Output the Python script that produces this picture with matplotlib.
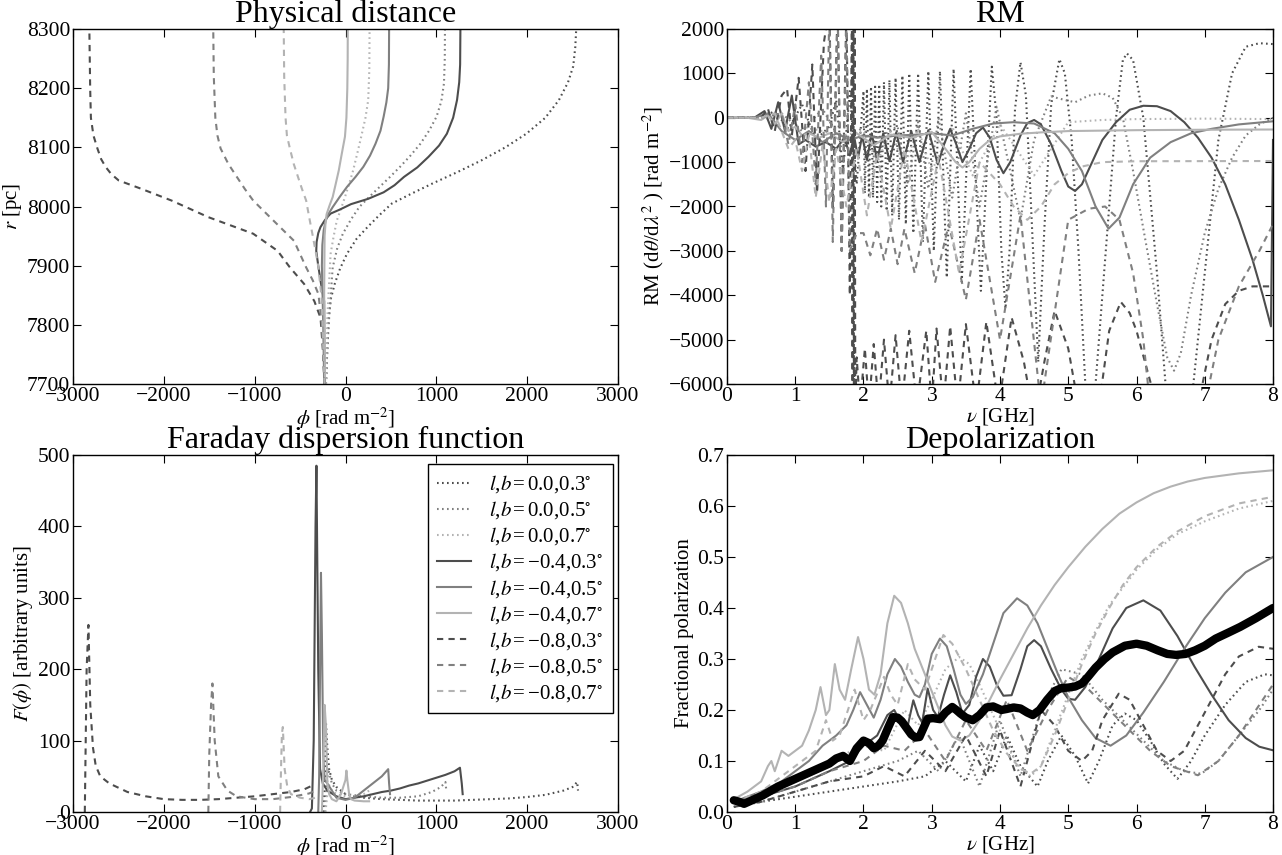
import matplotlib
matplotlib.use('Agg')
import matplotlib.pyplot as plt

plt.rcParams.update({
    'font.family': ['Liberation Serif', 'DejaVu Serif'],
    'mathtext.fontset': 'stix',
    'xtick.direction': 'in', 'ytick.direction': 'in',
    'xtick.top': True, 'ytick.right': True,
    'xtick.major.size': 6, 'ytick.major.size': 6,
    'xtick.major.pad': 2, 'ytick.major.pad': 2,
    'xtick.labelsize': 15.5, 'ytick.labelsize': 15.5,
    'axes.linewidth': 1.0,
})

# ---------------- series definitions ----------------
labels = ['$l$,$b\\,$=$\\,$0.0,0.3$^{\\circ}$', '$l$,$b\\,$=$\\,$0.0,0.5$^{\\circ}$',
          '$l$,$b\\,$=$\\,$0.0,0.7$^{\\circ}$', '$l$,$b\\,$=$\\,$\u22120.4,0.3$^{\\circ}$',
          '$l$,$b\\,$=$\\,$\u22120.4,0.5$^{\\circ}$', '$l$,$b\\,$=$\\,$\u22120.4,0.7$^{\\circ}$',
          '$l$,$b\\,$=$\\,$\u22120.8,0.3$^{\\circ}$', '$l$,$b\\,$=$\\,$\u22120.8,0.5$^{\\circ}$',
          '$l$,$b\\,$=$\\,$\u22120.8,0.7$^{\\circ}$']
colors = ['0.3', '0.5', '0.7'] * 3
styles = [(0, (0.8, 1.6))] * 3 + ['-'] * 3 + [(0, (3, 2.5))] * 3

# ---------------- Panel 1: Physical distance (phi, r) ----------------
pd_phi = [
    [-215, -200, -186, -160, -119, -60, 16, 120, 241, 370, 510, 730, 959, 1230, 1497, 1760, 1991, 2200,
     2350, 2450, 2507, 2530, 2540],
    [-215, -200, -180, -141, -90, -29, 60, 151, 260, 375, 490, 600, 715, 824, 920, 1003, 1055, 1084, 1093, 1095],
    [-215, -200, -164, -130, -96, -50, -6, 40, 84, 130, 173, 220, 250, 262, 265],
    [-232, -235, -270, -300, -322, -318, -300, -276, -231, -200, -164, -60, 61, 250, 420, 540, 644, 790,
     914, 1030, 1116, 1185, 1228, 1252, 1262, 1265],
    [-235, -245, -260, -255, -240, -218, -185, -141, -65, 16, 110, 196, 270, 330, 385, 420, 450, 470, 478, 480],
    [-225, -235, -230, -220, -208, -175, -141, -108, -74, -40, -6, 10, 20, 24, 25],
    [-231, -250, -275, -343, -455, -612, -747, -1016, -1510, -1914, -2250, -2497, -2580, -2641, -2690,
     -2731, -2775, -2803, -2811, -2820],
    [-231, -260, -298, -360, -433, -567, -792, -1016, -1110, -1196, -1290, -1375, -1410, -1433, -1450, -1456],
    [-231, -260, -298, -330, -365, -400, -433, -480, -523, -570, -612, -645, -660, -675, -680],
]
pd_r = [
    [7700, 7760, 7812, 7845, 7869, 7895, 7920, 7945, 7965, 7985, 8005, 8022, 8039, 8058, 8078, 8100, 8123,
     8150, 8180, 8210, 8237, 8270, 8300],
    [7700, 7760, 7812, 7897, 7930, 7954, 7978, 7999, 8016, 8033, 8050, 8067, 8086, 8106, 8128, 8152, 8178,
     8208, 8250, 8300],
    [7700, 7812, 7920, 7950, 7976, 7996, 8016, 8038, 8061, 8090, 8118, 8150, 8180, 8230, 8300],
    [7700, 7840, 7870, 7900, 7925, 7940, 7955, 7965, 7976, 7982, 7988, 7995, 8004, 8013, 8024, 8036, 8050,
     8066, 8084, 8103, 8123, 8150, 8180, 8210, 8240, 8300],
    [7700, 7800, 7900, 7935, 7960, 7976, 7988, 7999, 8016, 8033, 8050, 8067, 8086, 8106, 8128, 8152, 8176,
     8200, 8240, 8300],
    [7700, 7850, 7950, 7972, 7987, 8002, 8016, 8038, 8061, 8090, 8118, 8150, 8200, 8250, 8300],
    [7700, 7760, 7812, 7840, 7869, 7897, 7925, 7954, 7982, 8010, 8030, 8044, 8055, 8067, 8080, 8098, 8120,
     8150, 8200, 8300],
    [7700, 7800, 7852, 7875, 7897, 7942, 7976, 8010, 8030, 8050, 8072, 8098, 8120, 8150, 8220, 8300],
    [7700, 7840, 7897, 7925, 7954, 7982, 8010, 8030, 8050, 8072, 8098, 8120, 8150, 8220, 8300],
]

# ---------------- Panel 2: RM (nu, RM) ----------------
rm_nu = [
    # dotted dark
    [0, 0.5, 0.7, 0.9, 1.1, 1.3, 1.5, 1.6, 1.7, 1.8, 1.9, 2.0, 2.02, 2.05, 2.08, 2.11, 2.14, 2.17, 2.2, 2.23,
     2.26, 2.3, 2.34, 2.38, 2.42, 2.47, 2.52, 2.57, 2.62, 2.67, 2.73, 2.8, 2.87, 2.95, 3.03, 3.12, 3.22,
     3.32, 3.44, 3.57, 3.72, 3.88, 3.95, 4.02, 4.08, 4.14, 4.22, 4.3, 4.38, 4.47, 4.56, 4.65, 4.75, 4.87,
     4.95, 5.05, 5.15, 5.25, 5.3, 5.4, 5.55, 5.7, 5.8, 5.86, 5.95, 6.1, 6.3, 6.45, 6.62, 6.8, 7.0, 7.2,
     7.4, 7.6, 7.8, 8.0],
    # dotted mid
    [0, 0.5, 0.8, 1.1, 1.4, 1.7, 2.0, 2.2, 2.35, 2.5, 2.65, 2.8, 2.95, 3.1, 3.3, 3.5, 3.7, 3.95, 4.3, 4.5,
     4.75, 4.95, 5.1, 5.3, 5.5, 5.65, 5.8, 5.95, 6.1, 6.3, 6.45, 6.55, 6.65, 6.8, 7.0, 7.2, 7.4, 7.6, 7.8, 8.0],
    # dotted light
    [0, 0.5, 0.8, 1.1, 1.4, 1.7, 2.0, 2.2, 2.4, 2.6, 2.8, 3.0, 3.3, 3.6, 4.0, 4.5, 5.0, 5.5, 6.0, 7.0, 8.0],
    # solid dark
    [0, 0.4, 0.55, 0.65, 0.75, 0.85, 0.95, 1.05, 1.15, 1.3, 1.45, 1.6, 1.72, 1.8, 1.86, 1.92, 1.98, 2.05,
     2.12, 2.2, 2.29, 2.38, 2.48, 2.58, 2.7, 2.82, 2.95, 3.09, 3.18, 3.27, 3.36, 3.45, 3.55, 3.65, 3.75,
     3.85, 3.95, 4.05, 4.15, 4.3, 4.4, 4.5, 4.6, 4.75, 4.9, 5.0, 5.1, 5.2, 5.35, 5.5, 5.7, 5.9, 6.1, 6.3,
     6.5, 6.7, 6.9, 7.1, 7.3, 7.5, 7.7, 7.85, 7.97, 8.0],
    # solid mid
    [0, 0.4, 0.6, 0.8, 1.0, 1.2, 1.4, 1.6, 1.8, 2.0, 2.2, 2.5, 2.8, 3.0, 3.3, 3.6, 3.9, 4.2, 4.5, 4.8, 5.0,
     5.2, 5.4, 5.59, 5.75, 5.95, 6.2, 6.5, 6.8, 7.1, 7.5, 8.0],
    # solid light
    [0, 0.3, 0.5, 0.6, 0.7, 0.8, 0.9, 1.0, 1.1, 1.2, 1.35, 1.5, 1.7, 1.9, 2.15, 2.4, 2.7, 3.0, 3.2, 3.35,
     3.45, 3.55, 3.7, 3.85, 4.0, 4.3, 4.6, 5.0, 6.0, 7.0, 8.0],
    # dashed dark
    [0, 0.5, 0.6, 0.7, 0.8, 0.88, 0.95, 1.05, 1.15, 1.25, 1.32, 1.42, 1.5, 1.55, 1.62, 1.68, 1.75, 1.8,
     1.83, 1.84, 1.85, 1.86, 1.87, 1.88, 1.9, 1.95, 2.02, 2.08, 2.15, 2.22, 2.3, 2.38, 2.47, 2.56, 2.67,
     2.78, 2.92, 3.0, 3.07, 3.17, 3.27, 3.38, 3.5, 3.65, 3.8, 3.98, 4.17, 4.35, 4.5, 4.65, 4.8, 5.0, 5.15,
     5.3, 5.45, 5.6, 5.77, 5.9, 6.0, 6.3, 6.6, 6.9, 7.1, 7.3, 7.5, 7.7, 8.0],
    # dashed mid
    [0, 0.5, 0.8, 0.9, 1.0, 1.1, 1.2, 1.3, 1.38, 1.45, 1.5, 1.55, 1.62, 1.68, 1.75, 1.8, 1.9, 2.0, 2.1,
     2.2, 2.3, 2.4, 2.5, 2.6, 2.75, 2.9, 3.05, 3.25, 3.5, 3.7, 4.0, 4.3, 4.6, 5.0, 5.3, 5.54, 5.75, 5.95,
     6.1, 6.2, 6.6, 7.0, 7.2, 7.5, 7.8, 8.0],
    # dashed light
    [0, 0.5, 0.7, 0.8, 0.9, 1.0, 1.1, 1.2, 1.3, 1.4, 1.5, 1.6, 1.75, 1.9, 2.05, 2.2, 2.4, 2.6, 2.85, 3.1,
     3.4, 3.7, 4.0, 4.2, 4.4, 4.6, 4.8, 5.0, 5.2, 5.5, 6.0, 8.0],
]
rm_val = [
    [0, 0, 150, -250, 300, -500, -200, 400, -1200, 600, -1500, 600, -1700, 650, -1800, 700, -1800, 700,
     -1900, 750, -2000, 800, -2100, 850, -2200, 900, -2300, 950, -2400, 1000, -2600, 1000, -2800, 1050,
     -3000, 1050, -3600, 1100, -3700, 1100, -3900, 1150, 0, -3000, -4300, -3000, 200, 1250, 500, -2500,
     -5500, -2500, 300, 1320, 1000, -500, -3000, -6000, -6800, -6000, -3000, 0, 1300, 1450, 1300, 0, -3500,
     -6500, -7500, -6500, -3500, -500, 1000, 1600, 1680, 1660],
    [0, 0, 100, -300, 200, -600, -200, -900, -300, -200, -1500, -100, -1600, 0, -1800, 100, -2000, 250,
     -2300, -500, 480, 400, 350, 500, 550, 450, 0, -1200, -2500, -4200, -5400, -5700, -5300, -4000, -2600,
     -1600, -900, -400, -150, 0],
    [0, 0, -100, -200, -300, -400, -300, -1000, -300, -1100, -250, -1200, -200, -1300, -150, -1300, -100,
     -50, -30, -20, -30],
    [0, 0, 150, -250, 350, -300, 500, -600, -500, -650, -550, -700, -450, -850, -400, -900, -400, -950, -350,
     -950, -350, -980, -330, -1000, -300, -1000, -280, -1050, -600, -250, -600, -1000, -700, -350, -220,
     -450, -950, -1250, -1000, -400, -120, -50, -150, -600, -1200, -1550, -1650, -1500, -1000, -500, -100,
     180, 270, 260, 150, -100, -450, -900, -1500, -2300, -3200, -4000, -4700, -500],
    [0, 0, 100, -300, -500, -300, -550, -350, -500, -400, -450, -400, -380, -350, -400, -250, -130, -100,
     -130, -350, -700, -1200, -2000, -2500, -2250, -1500, -900, -550, -350, -250, -150, -80],
    [0, 0, -50, 50, -150, 100, -300, -200, -400, -350, -450, -350, -550, -350, -620, -380, -450, -320, -700,
     -1000, -1120, -1000, -700, -500, -420, -360, -330, -300, -280, -270, -265],
    [0, 0, 200, -300, 500, 650, -400, 900, -1200, 1200, -1700, 1700, 2500, -2000, 2500, -3000, 2500, -4000,
     2500, -6500, 2500, -6500, 2500, -6500, -5400, -6500, -5200, -6500, -5100, -6500, -5000, -6500, -4900,
     -6500, -4800, -6500, -4800, -6500, -4750, -6500, -4700, -6500, -4650, -6500, -4600, -6500, -4500,
     -5500, -6800, -5500, -4350, -5200, -6500, -7000, -6500, -4800, -4150, -4400, -4800, -6500, -7000,
     -6500, -5000, -4200, -3900, -3800, -3800],
    [0, 0, 100, -600, 300, -1000, 800, -1500, 1400, -2000, 2500, -2800, 2500, -3000, 2000, -3000, -2600,
     -2600, -3100, -2500, -3200, -2500, -3300, -2500, -3500, -2400, -3700, -2400, -4100, -2300, -5000,
     -2200, -6500, -2300, -2050, -2000, -2300, -3500, -5000, -6500, -7500, -6500, -5000, -3800, -3000, -2400],
    [0, 0, 100, -300, -700, -500, -1200, -400, -1800, -600, -1900, -700, -2000, -700, -2200, -800, -2500,
     -700, -2800, -900, -3500, -1000, -1500, -2000, -2300, -2000, -1500, -1250, -1100, -1000, -980, -975],
]

# ---------------- Panel 3: Faraday dispersion function ----------------
fd_phi = [
    [-250, -230, -215, -200, -180, -150, -100, 0, 100, 200, 400, 600, 800, 1000, 1200, 1400, 1600, 1800,
     2000, 2200, 2400, 2500, 2550, 2560],
    [-230, -210, -190, -150, -100, 0, 200, 400, 600, 800, 950, 1050, 1100, 1110],
    [-220, -200, -190, -150, -100, 0, 100, 200, 260, 270],
    [-390, -370, -350, -330, -320, -300, -280, -250, -200, -100, 0, 100, 200, 300, 400, 500, 600, 700,
     800, 900, 1000, 1100, 1200, 1260, 1280, 1290],
    [-300, -290, -280, -270, -260, -245, -230, -200, -150, -100, 0, 100, 200, 300, 400, 470, 480, 490],
    [-260, -245, -230, -215, -200, -180, -150, -100, -50, 0, 10, 20, 40, 60, 100, 200, 260],
    [-2870, -2860, -2850, -2830, -2810, -2780, -2750, -2700, -2600, -2400, -2200, -2000, -1800, -1600,
     -1400, -1200, -1000, -800, -600, -450, -350],
    [-1510, -1500, -1480, -1465, -1440, -1400, -1300, -1200, -1000, -800, -600, -400, -330],
    [-720, -710, -700, -690, -670, -640, -600, -500, -400, -330],
]
fd_val = [
    [0, 30, 125, 90, 60, 45, 35, 25, 22, 20, 18, 17, 16, 16, 16, 17, 18, 19, 21, 24, 30, 35, 42, 30],
    [0, 30, 60, 40, 30, 25, 22, 20, 20, 22, 28, 35, 42, 30],
    [0, 25, 40, 30, 25, 22, 22, 25, 30, 22],
    [0, 5, 100, 400, 485, 200, 60, 40, 30, 22, 18, 20, 22, 25, 28, 30, 33, 37, 40, 44, 48, 52, 57, 62, 40, 25],
    [0, 50, 200, 335, 250, 80, 45, 40, 30, 20, 17, 20, 30, 40, 50, 60, 40, 25],
    [0, 60, 150, 120, 40, 25, 18, 15, 25, 45, 58, 45, 25, 18, 16, 15, 15],
    [0, 100, 200, 262, 150, 90, 65, 50, 40, 28, 22, 18, 17, 17, 18, 20, 22, 25, 28, 32, 38],
    [0, 80, 150, 180, 100, 50, 30, 22, 18, 18, 21, 26, 30],
    [0, 60, 110, 119, 60, 35, 25, 20, 18, 20],
]

# ---------------- Panel 4: Depolarization ----------------
dp_nu = [
    [0.1, 0.5, 1.0, 1.5, 2.0, 2.5, 2.9, 3.2, 3.5, 3.7, 3.9, 4.1, 4.3, 4.55, 4.7, 4.9, 5.1, 5.29, 5.45,
     5.65, 5.83, 6.0, 6.2, 6.4, 6.6, 6.8, 7.0, 7.3, 7.6, 7.88, 8.0],
    [0.1, 0.5, 1.0, 1.5, 2.0, 2.5, 2.8, 3.1, 3.4, 3.7, 4.0, 4.3, 4.6, 4.9, 5.2, 5.5, 5.8, 6.1, 6.4, 6.7,
     6.95, 7.2, 7.5, 7.8, 8.0],
    [0.1, 0.5, 1.0, 1.5, 2.0, 2.3, 2.6, 2.8, 3.0, 3.2, 3.4, 3.55, 3.7, 3.9, 4.1, 4.3, 4.45, 4.6, 4.8, 5.0,
     5.2, 5.4, 5.6, 5.8, 6.0, 6.3, 6.6, 7.0, 7.5, 8.0],
    [0.1, 0.5, 1.0, 1.5, 1.8, 2.0, 2.2, 2.35, 2.45, 2.55, 2.65, 2.73, 2.8, 2.86, 2.94, 3.02, 3.09, 3.18,
     3.27, 3.36, 3.45, 3.55, 3.65, 3.75, 3.85, 3.95, 4.05, 4.17, 4.3, 4.4, 4.5, 4.6, 4.75, 4.9, 5.0, 5.1,
     5.25, 5.45, 5.65, 5.85, 6.1, 6.35, 6.6, 6.85, 7.1, 7.35, 7.6, 7.8, 8.0],
    [0.1, 0.5, 0.8, 1.0, 1.2, 1.4, 1.6, 1.75, 1.85, 1.95, 2.05, 2.15, 2.25, 2.35, 2.46, 2.55, 2.65, 2.75,
     2.82, 2.9, 3.0, 3.12, 3.22, 3.32, 3.42, 3.5, 3.6, 3.75, 3.9, 4.05, 4.25, 4.4, 4.55, 4.7, 4.85, 5.0,
     5.2, 5.4, 5.62, 5.85, 6.1, 6.4, 6.7, 7.0, 7.3, 7.6, 8.0],
    [0.1, 0.3, 0.5, 0.6, 0.65, 0.7, 0.8, 0.9, 1.0, 1.1, 1.2, 1.3, 1.37, 1.45, 1.5, 1.58, 1.65, 1.73, 1.82,
     1.92, 2.0, 2.08, 2.16, 2.25, 2.35, 2.45, 2.55, 2.65, 2.75, 2.9, 3.05, 3.2, 3.3, 3.42, 3.55, 3.7,
     3.85, 4.0, 4.2, 4.4, 4.6, 4.8, 5.0, 5.25, 5.5, 5.75, 6.0, 6.25, 6.5, 6.75, 7.0, 7.5, 8.0],
    [0.1, 0.5, 1.0, 1.5, 2.0, 2.3, 2.6, 2.9, 3.2, 3.5, 3.8, 4.0, 4.3, 4.6, 4.8, 5.0, 5.2, 5.35, 5.5, 5.74,
     5.9, 6.1, 6.3, 6.5, 6.7, 6.9, 7.1, 7.3, 7.5, 7.79, 8.0],
    [0.1, 0.5, 1.0, 1.5, 2.0, 2.3, 2.6, 2.9, 3.2, 3.5, 3.8, 4.1, 4.4, 4.7, 5.0, 5.3, 5.6, 5.9, 6.2, 6.5,
     6.9, 7.2, 7.5, 7.8, 8.0],
    [0.1, 0.5, 1.0, 1.2, 1.3, 1.45, 1.55, 1.65, 1.87, 2.0, 2.1, 2.3, 2.4, 2.5, 2.65, 2.75, 2.9, 3.05, 3.17,
     3.3, 3.5, 3.7, 3.9, 4.1, 4.3, 4.45, 4.6, 4.8, 5.0, 5.2, 5.4, 5.6, 5.8, 6.0, 6.3, 6.6, 7.0, 7.5, 8.0],
]
dp_val = [
    [0.01, 0.02, 0.03, 0.04, 0.05, 0.06, 0.07, 0.1, 0.06, 0.13, 0.08, 0.15, 0.09, 0.05, 0.1, 0.15, 0.11,
     0.056, 0.1, 0.17, 0.193, 0.18, 0.14, 0.095, 0.065, 0.1, 0.15, 0.21, 0.255, 0.27, 0.268],
    [0.01, 0.02, 0.04, 0.06, 0.08, 0.1, 0.12, 0.08, 0.15, 0.05, 0.18, 0.07, 0.2, 0.28, 0.27, 0.22, 0.18,
     0.14, 0.1, 0.08, 0.075, 0.1, 0.15, 0.2, 0.24],
    [0.02, 0.03, 0.06, 0.1, 0.13, 0.12, 0.2, 0.17, 0.22, 0.28, 0.304, 0.29, 0.25, 0.19, 0.13, 0.085, 0.07,
     0.09, 0.16, 0.23, 0.3, 0.355, 0.405, 0.44, 0.475, 0.515, 0.545, 0.57, 0.595, 0.61],
    [0.02, 0.03, 0.05, 0.08, 0.1, 0.13, 0.15, 0.19, 0.2, 0.175, 0.17, 0.219, 0.19, 0.175, 0.242, 0.2, 0.186,
     0.23, 0.268, 0.235, 0.193, 0.21, 0.265, 0.3, 0.285, 0.25, 0.228, 0.229, 0.28, 0.325, 0.337, 0.325,
     0.28, 0.24, 0.222, 0.22, 0.245, 0.3, 0.36, 0.4, 0.415, 0.395, 0.345, 0.285, 0.23, 0.18, 0.145, 0.128,
     0.121],
    [0.02, 0.04, 0.06, 0.08, 0.1, 0.13, 0.15, 0.17, 0.2, 0.235, 0.21, 0.185, 0.22, 0.27, 0.3, 0.285, 0.255,
     0.23, 0.225, 0.25, 0.31, 0.34, 0.325, 0.28, 0.23, 0.212, 0.225, 0.27, 0.33, 0.39, 0.419, 0.405, 0.37,
     0.32, 0.27, 0.225, 0.18, 0.145, 0.13, 0.15, 0.195, 0.255, 0.32, 0.38, 0.43, 0.47, 0.5],
    [0.025, 0.04, 0.06, 0.09, 0.1, 0.08, 0.12, 0.11, 0.12, 0.13, 0.16, 0.2, 0.245, 0.19, 0.2, 0.29, 0.24,
     0.22, 0.28, 0.343, 0.3, 0.24, 0.23, 0.27, 0.37, 0.424, 0.41, 0.37, 0.32, 0.27, 0.22, 0.17, 0.148,
     0.14, 0.15, 0.18, 0.22, 0.26, 0.31, 0.36, 0.405, 0.445, 0.48, 0.52, 0.555, 0.585, 0.607, 0.625,
     0.638, 0.648, 0.655, 0.664, 0.67],
    [0.01, 0.02, 0.04, 0.06, 0.07, 0.09, 0.07, 0.12, 0.08, 0.15, 0.07, 0.16, 0.05, 0.2, 0.17, 0.12, 0.1,
     0.12, 0.18, 0.232, 0.22, 0.17, 0.12, 0.1, 0.12, 0.17, 0.22, 0.27, 0.305, 0.324, 0.32],
    [0.02, 0.03, 0.05, 0.08, 0.1, 0.13, 0.12, 0.16, 0.1, 0.18, 0.12, 0.22, 0.12, 0.2, 0.265, 0.24, 0.2,
     0.16, 0.12, 0.09, 0.072, 0.1, 0.15, 0.21, 0.25],
    [0.02, 0.04, 0.09, 0.11, 0.12, 0.18, 0.14, 0.15, 0.24, 0.18, 0.2, 0.265, 0.23, 0.21, 0.29, 0.26, 0.24,
     0.3, 0.347, 0.33, 0.28, 0.22, 0.16, 0.115, 0.085, 0.075, 0.09, 0.15, 0.22, 0.29, 0.35, 0.4, 0.445,
     0.48, 0.52, 0.55, 0.58, 0.605, 0.618],
]
avg_nu = [0.1, 0.18, 0.25, 0.35, 0.53, 0.75, 1.0, 1.25, 1.5, 1.6, 1.7, 1.8, 1.9, 2.0, 2.08, 2.15, 2.22,
          2.28, 2.36, 2.43, 2.5, 2.56, 2.63, 2.7, 2.76, 2.82, 2.88, 2.94, 3.02, 3.12, 3.2, 3.3, 3.36, 3.42,
          3.5, 3.6, 3.7, 3.8, 3.9, 4.02, 4.1, 4.2, 4.3, 4.4, 4.48, 4.58, 4.69, 4.8, 4.9, 5.0, 5.1, 5.2,
          5.29, 5.4, 5.53, 5.65, 5.83, 6.0, 6.15, 6.31, 6.45, 6.58, 6.72, 6.86, 7.0, 7.16, 7.35, 7.52,
          7.75, 8.0]
avg_val = [0.023, 0.02, 0.016, 0.022, 0.033, 0.05, 0.065, 0.08, 0.095, 0.105, 0.11, 0.10, 0.125, 0.14,
           0.135, 0.125, 0.13, 0.14, 0.165, 0.186, 0.185, 0.178, 0.165, 0.152, 0.146, 0.147, 0.165, 0.183,
           0.184, 0.182, 0.195, 0.206, 0.2, 0.193, 0.185, 0.18, 0.19, 0.205, 0.207, 0.2, 0.202, 0.205,
           0.203, 0.195, 0.19, 0.2, 0.22, 0.237, 0.243, 0.244, 0.246, 0.252, 0.265, 0.283, 0.3, 0.313,
           0.326, 0.33, 0.326, 0.317, 0.31, 0.308, 0.31, 0.317, 0.326, 0.34, 0.352, 0.363, 0.38, 0.4]

# ---------------- figure ----------------
fig = plt.figure(figsize=(12.82, 8.55), dpi=100)
W, H = 1282, 855
ax1 = fig.add_axes([73 / W, (H - 384) / H, 545 / W, 355 / H])
ax2 = fig.add_axes([727 / W, (H - 384) / H, 546 / W, 355 / H])
ax3 = fig.add_axes([73 / W, (H - 812) / H, 545 / W, 357 / H])
ax4 = fig.add_axes([727 / W, (H - 812) / H, 546 / W, 357 / H])

lw = 1.5
for i in range(9):
    ax1.plot(pd_phi[i], pd_r[i], color=colors[i], ls=styles[i], lw=lw)
    ax2.plot(rm_nu[i], rm_val[i], color=colors[i], ls=styles[i], lw=lw)
    ax3.plot(fd_phi[i], fd_val[i], color=colors[i], ls=styles[i], lw=lw, label=labels[i])
    ax4.plot(dp_nu[i], dp_val[i], color=colors[i], ls=styles[i], lw=lw)
ax4.plot(avg_nu, avg_val, color='black', lw=6, solid_capstyle='round', solid_joinstyle='round')

tfs = 23
lfs = 15
tpad = 3
ax1.set_title('Physical distance', fontsize=tfs, pad=tpad)
ax1.set_xlim(-3000, 3000)
ax1.set_ylim(7700, 8300)
ax1.set_xticks(range(-3000, 3001, 1000))
ax1.set_yticks(range(7700, 8301, 100))
ax1.set_xlabel(r'$\phi$ [rad m$^{-2}$]', fontsize=lfs, labelpad=0)
ax1.set_ylabel(r'$r$ [pc]', fontsize=lfs, labelpad=2)

ax2.set_title('RM', fontsize=tfs, pad=tpad)
ax2.set_xlim(0, 8)
ax2.set_ylim(-6000, 2000)
ax2.set_xticks(range(0, 9))
ax2.set_yticks(range(-6000, 2001, 1000))
ax2.set_xlabel(r'$\nu$ [GHz]', fontsize=lfs, labelpad=0)
ax2.set_ylabel(r'RM (d$\theta$/d$\lambda^2$ ) [rad m$^{-2}$]', fontsize=lfs, labelpad=2)

ax3.set_title('Faraday dispersion function', fontsize=tfs, pad=tpad)
ax3.set_xlim(-3000, 3000)
ax3.set_ylim(0, 500)
ax3.set_xticks(range(-3000, 3001, 1000))
ax3.set_yticks(range(0, 501, 100))
ax3.set_xlabel(r'$\phi$ [rad m$^{-2}$]', fontsize=lfs, labelpad=0)
ax3.set_ylabel(r'$F(\phi)$ [arbitrary units]', fontsize=lfs, labelpad=2)
leg = ax3.legend(loc='upper right', bbox_to_anchor=(0.9908, 0.9748), borderaxespad=0,
                 fontsize=15, handlelength=1.6, handletextpad=0.9,
                 labelspacing=0.2, borderpad=0.45, fancybox=False,
                 framealpha=1, edgecolor='black')
leg.get_frame().set_linewidth(1.0)

ax4.set_title('Depolarization', fontsize=tfs, pad=tpad)
ax4.set_xlim(0, 8)
ax4.set_ylim(0, 0.7)
ax4.set_xticks(range(0, 9))
ax4.set_yticks([0.0, 0.1, 0.2, 0.3, 0.4, 0.5, 0.6, 0.7])
ax4.set_yticklabels(['0.0', '0.1', '0.2', '0.3', '0.4', '0.5', '0.6', '0.7'])
ax4.set_xlabel(r'$\nu$ [GHz]', fontsize=lfs, labelpad=0)
ax4.set_ylabel('Fractional polarization', fontsize=lfs, labelpad=2)

fig.savefig('out.png', dpi=100)
